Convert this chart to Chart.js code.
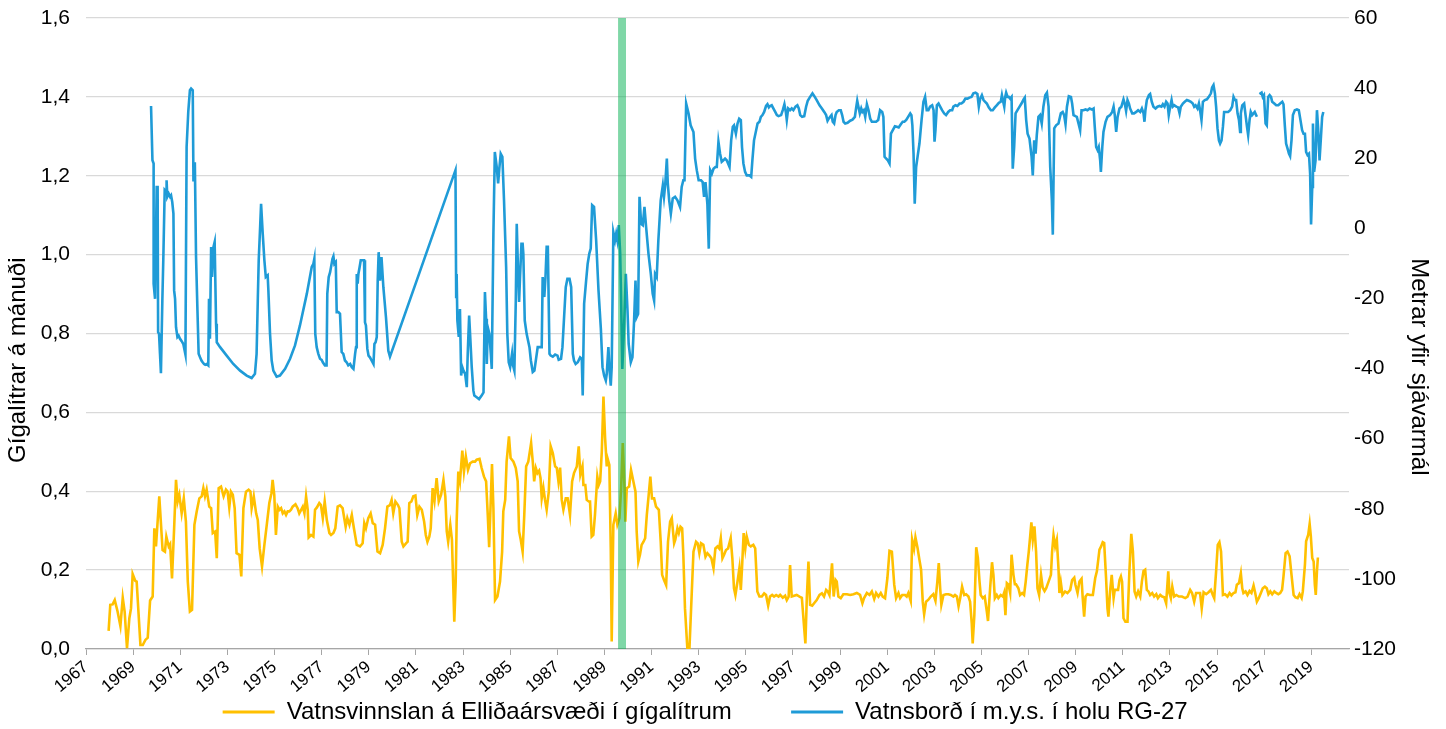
<!DOCTYPE html>
<html>
<head>
<meta charset="utf-8">
<script src="https://cdn.jsdelivr.net/npm/chart.js@4.4.1/dist/chart.umd.min.js"></script>
<style>
  html, body { margin: 0; padding: 0; background: #fff; }
  canvas { display: block; }
</style>
</head>
<body>
<canvas id="chart" width="1446" height="729"></canvas>
<script>
// Vatnsvinnsla (gígalítrar á mánuði) - vinstri ás
const extractionYears = [
  1967.96, 1968.03, 1968.13, 1968.22, 1968.34, 1968.46, 1968.56, 1968.64, 1968.74, 1968.84,
  1968.91, 1968.98, 1969.09, 1969.15, 1969.31, 1969.41, 1969.52, 1969.62, 1969.72, 1969.83,
  1969.90, 1969.97, 1970.11, 1970.25, 1970.35, 1970.41, 1970.51, 1970.57, 1970.65, 1970.74,
  1970.82, 1970.89, 1970.96, 1971.06, 1971.15, 1971.24, 1971.32, 1971.41, 1971.50, 1971.60,
  1971.70, 1971.81, 1971.91, 1971.98, 1972.05, 1972.12, 1972.23, 1972.31, 1972.38, 1972.48,
  1972.55, 1972.63, 1972.73, 1972.84, 1972.94, 1973.01, 1973.08, 1973.15, 1973.23, 1973.31,
  1973.39, 1973.51, 1973.59, 1973.68, 1973.79, 1973.90, 1973.98, 1974.03, 1974.12, 1974.22,
  1974.29, 1974.37, 1974.47, 1974.57, 1974.68, 1974.78, 1974.87, 1974.92, 1974.99, 1975.06,
  1975.14, 1975.21, 1975.28, 1975.35, 1975.42, 1975.49, 1975.56, 1975.63, 1975.70, 1975.77,
  1975.89, 1975.98, 1976.05, 1976.13, 1976.20, 1976.27, 1976.34, 1976.41, 1976.45, 1976.55,
  1976.65, 1976.72, 1976.80, 1976.90, 1976.97, 1977.05, 1977.13, 1977.22, 1977.33, 1977.40,
  1977.50, 1977.58, 1977.68, 1977.78, 1977.89, 1978.02, 1978.09, 1978.18, 1978.28, 1978.37,
  1978.49, 1978.63, 1978.74, 1978.81, 1978.88, 1978.98, 1979.08, 1979.17, 1979.27, 1979.37,
  1979.48, 1979.59, 1979.69, 1979.79, 1979.90, 1979.97, 1980.04, 1980.13, 1980.24, 1980.30,
  1980.40, 1980.47, 1980.58, 1980.65, 1980.72, 1980.81, 1980.89, 1980.98, 1981.06, 1981.15,
  1981.25, 1981.35, 1981.42, 1981.49, 1981.57, 1981.63, 1981.71, 1981.79, 1981.88, 1981.97,
  1982.07, 1982.17, 1982.25, 1982.31, 1982.37, 1982.46, 1982.53, 1982.63, 1982.69, 1982.73,
  1982.80, 1982.87, 1982.97, 1983.04, 1983.12, 1983.21, 1983.30, 1983.41, 1983.51, 1983.58,
  1983.70, 1983.79, 1983.89, 1983.98, 1984.05, 1984.11, 1984.18, 1984.23, 1984.29, 1984.36,
  1984.46, 1984.57, 1984.66, 1984.71, 1984.79, 1984.85, 1984.95, 1985.02, 1985.14, 1985.24,
  1985.32, 1985.38, 1985.45, 1985.53, 1985.60, 1985.68, 1985.77, 1985.89, 1985.96, 1986.02,
  1986.09, 1986.16, 1986.23, 1986.29, 1986.34, 1986.41, 1986.48, 1986.55, 1986.64, 1986.72,
  1986.81, 1986.91, 1986.98, 1987.05, 1987.12, 1987.19, 1987.26, 1987.36, 1987.44, 1987.54,
  1987.63, 1987.71, 1987.83, 1987.91, 1987.98, 1988.07, 1988.11, 1988.19, 1988.25, 1988.34,
  1988.39, 1988.46, 1988.53, 1988.60, 1988.70, 1988.76, 1988.82, 1988.89, 1988.96, 1989.03,
  1989.10, 1989.14, 1989.21, 1989.27, 1989.31, 1989.38, 1989.48, 1989.55, 1989.64, 1989.71,
  1989.78, 1989.85, 1989.89, 1989.95, 1990.05, 1990.13, 1990.23, 1990.32, 1990.37, 1990.44,
  1990.51, 1990.58, 1990.66, 1990.73, 1990.80, 1990.88, 1990.95, 1991.02, 1991.11, 1991.19,
  1991.31, 1991.39, 1991.45, 1991.53, 1991.62, 1991.70, 1991.79, 1991.86, 1991.96, 1992.01,
  1992.10, 1992.16, 1992.23, 1992.30, 1992.35, 1992.42, 1992.52, 1992.61, 1992.68, 1992.78,
  1992.89, 1992.96, 1993.03, 1993.10, 1993.20, 1993.29, 1993.37, 1993.46, 1993.54, 1993.63,
  1993.71, 1993.80, 1993.87, 1993.94, 1994.01, 1994.08, 1994.16, 1994.25, 1994.36, 1994.43,
  1994.50, 1994.56, 1994.65, 1994.73, 1994.79, 1994.84, 1994.91, 1994.98, 1995.04, 1995.13,
  1995.21, 1995.32, 1995.40, 1995.49, 1995.58, 1995.68, 1995.78, 1995.86, 1995.95, 1996.03,
  1996.12, 1996.20, 1996.29, 1996.39, 1996.46, 1996.57, 1996.67, 1996.74, 1996.82, 1996.88,
  1996.95, 1997.05, 1997.16, 1997.28, 1997.38, 1997.48, 1997.53, 1997.59, 1997.66, 1997.73,
  1997.82, 1997.90, 1998.01, 1998.13, 1998.23, 1998.32, 1998.41, 1998.48, 1998.55, 1998.66,
  1998.73, 1998.81, 1998.86, 1998.93, 1999.03, 1999.14, 1999.29, 1999.43, 1999.57, 1999.71,
  1999.85, 1999.95, 2000.02, 2000.14, 2000.25, 2000.35, 2000.45, 2000.53, 2000.63, 2000.73,
  2000.81, 2000.91, 2001.01, 2001.10, 2001.20, 2001.30, 2001.38, 2001.48, 2001.55, 2001.64,
  2001.76, 2001.83, 2001.90, 2002.00, 2002.06, 2002.14, 2002.20, 2002.29, 2002.37, 2002.44,
  2002.51, 2002.57, 2002.65, 2002.75, 2002.85, 2002.96, 2003.05, 2003.13, 2003.19, 2003.25,
  2003.30, 2003.39, 2003.50, 2003.60, 2003.70, 2003.81, 2003.88, 2003.96, 2004.03, 2004.10,
  2004.18, 2004.27, 2004.35, 2004.45, 2004.52, 2004.59, 2004.63, 2004.70, 2004.78, 2004.85,
  2004.92, 2004.97, 2005.06, 2005.14, 2005.23, 2005.28, 2005.37, 2005.45, 2005.51, 2005.57,
  2005.65, 2005.72, 2005.82, 2005.91, 2005.96, 2006.02, 2006.08, 2006.15, 2006.22, 2006.28,
  2006.36, 2006.42, 2006.47, 2006.57, 2006.64, 2006.73, 2006.81, 2006.88, 2006.95, 2007.01,
  2007.07, 2007.12, 2007.18, 2007.25, 2007.32, 2007.38, 2007.45, 2007.53, 2007.60, 2007.68,
  2007.75, 2007.85, 2007.95, 2008.00, 2008.06, 2008.13, 2008.20, 2008.27, 2008.31, 2008.37,
  2008.44, 2008.55, 2008.65, 2008.77, 2008.85, 2008.94, 2008.99, 2009.08, 2009.16, 2009.25,
  2009.30, 2009.36, 2009.42, 2009.50, 2009.61, 2009.73, 2009.83, 2009.90, 2010.01, 2010.08,
  2010.15, 2010.21, 2010.29, 2010.35, 2010.39, 2010.46, 2010.53, 2010.61, 2010.66, 2010.72,
  2010.80, 2010.86, 2010.92, 2010.97, 2011.03, 2011.11, 2011.20, 2011.28, 2011.36, 2011.43,
  2011.50, 2011.57, 2011.65, 2011.74, 2011.81, 2011.88, 2011.95, 2012.02, 2012.09, 2012.16,
  2012.25, 2012.33, 2012.42, 2012.49, 2012.59, 2012.67, 2012.76, 2012.84, 2012.93, 2012.98,
  2013.04, 2013.10, 2013.18, 2013.27, 2013.38, 2013.51, 2013.65, 2013.75, 2013.86, 2013.94,
  2014.03, 2014.11, 2014.21, 2014.28, 2014.35, 2014.43, 2014.54, 2014.64, 2014.74, 2014.82,
  2014.88, 2014.96, 2015.03, 2015.10, 2015.17, 2015.25, 2015.34, 2015.44, 2015.53, 2015.61,
  2015.70, 2015.78, 2015.84, 2015.93, 2016.01, 2016.07, 2016.12, 2016.21, 2016.29, 2016.38,
  2016.46, 2016.55, 2016.62, 2016.69, 2016.77, 2016.86, 2016.94, 2017.03, 2017.11, 2017.18,
  2017.26, 2017.34, 2017.43, 2017.51, 2017.60, 2017.68, 2017.76, 2017.82, 2017.91, 2017.99,
  2018.08, 2018.16, 2018.25, 2018.33, 2018.42, 2018.50, 2018.59, 2018.64, 2018.73, 2018.78,
  2018.87, 2018.93, 2018.98, 2019.04, 2019.10, 2019.15, 2019.19, 2019.24, 2019.28
];
const extractionValues = [
  0.046, 0.112, 0.113, 0.124, 0.095, 0.058, 0.130, 0.095, 0.002, 0.078,
  0.103, 0.190, 0.173, 0.171, 0.010, 0.010, 0.023, 0.029, 0.123, 0.133,
  0.306, 0.260, 0.387, 0.251, 0.247, 0.285, 0.260, 0.266, 0.179, 0.306,
  0.429, 0.374, 0.391, 0.344, 0.382, 0.323, 0.171, 0.095, 0.099, 0.315,
  0.349, 0.382, 0.387, 0.408, 0.387, 0.404, 0.361, 0.357, 0.294, 0.298,
  0.230, 0.408, 0.412, 0.387, 0.404, 0.399, 0.359, 0.399, 0.391, 0.357,
  0.243, 0.239, 0.184, 0.357, 0.399, 0.404, 0.399, 0.357, 0.387, 0.344,
  0.327, 0.255, 0.209, 0.264, 0.319, 0.370, 0.395, 0.429, 0.391, 0.289,
  0.361, 0.353, 0.357, 0.344, 0.349, 0.340, 0.349, 0.349, 0.353, 0.361,
  0.367, 0.357, 0.344, 0.353, 0.361, 0.344, 0.387, 0.353, 0.283, 0.289,
  0.285, 0.353, 0.359, 0.370, 0.365, 0.332, 0.374, 0.327, 0.294, 0.289,
  0.294, 0.306, 0.361, 0.364, 0.357, 0.310, 0.332, 0.315, 0.340, 0.306,
  0.264, 0.260, 0.268, 0.319, 0.306, 0.332, 0.344, 0.319, 0.315, 0.247,
  0.243, 0.264, 0.306, 0.361, 0.365, 0.378, 0.344, 0.374, 0.365, 0.357,
  0.272, 0.260, 0.268, 0.272, 0.370, 0.374, 0.387, 0.389, 0.340, 0.361,
  0.353, 0.323, 0.289, 0.272, 0.285, 0.306, 0.408, 0.376, 0.433, 0.374,
  0.391, 0.429, 0.387, 0.298, 0.272, 0.315, 0.277, 0.069, 0.171, 0.323,
  0.450, 0.425, 0.503, 0.450, 0.488, 0.454, 0.471, 0.475, 0.475, 0.480,
  0.482, 0.459, 0.437, 0.425, 0.340, 0.258, 0.382, 0.469, 0.357, 0.124,
  0.133, 0.171, 0.247, 0.349, 0.378, 0.475, 0.539, 0.484, 0.475, 0.459,
  0.425, 0.298, 0.277, 0.247, 0.340, 0.463, 0.475, 0.522, 0.475, 0.425,
  0.459, 0.446, 0.452, 0.433, 0.382, 0.409, 0.378, 0.353, 0.399, 0.514,
  0.497, 0.463, 0.459, 0.425, 0.460, 0.378, 0.353, 0.382, 0.382, 0.340,
  0.425, 0.446, 0.463, 0.514, 0.442, 0.463, 0.416, 0.416, 0.378, 0.374,
  0.374, 0.285, 0.289, 0.340, 0.437, 0.416, 0.425, 0.501, 0.640, 0.535,
  0.463, 0.482, 0.467, 0.255, 0.019, 0.315, 0.344, 0.315, 0.332, 0.408,
  0.522, 0.416, 0.323, 0.408, 0.412, 0.454, 0.425, 0.399, 0.298, 0.222,
  0.239, 0.264, 0.272, 0.281, 0.340, 0.391, 0.437, 0.382, 0.382, 0.361,
  0.353, 0.272, 0.188, 0.175, 0.162, 0.272, 0.323, 0.332, 0.268, 0.277,
  0.306, 0.294, 0.310, 0.306, 0.239, 0.103, 0.002, 0.002, 0.103, 0.247,
  0.272, 0.268, 0.243, 0.268, 0.264, 0.234, 0.243, 0.237, 0.230, 0.205,
  0.255, 0.260, 0.255, 0.281, 0.230, 0.239, 0.251, 0.255, 0.281, 0.230,
  0.154, 0.137, 0.171, 0.205, 0.150, 0.205, 0.294, 0.255, 0.285, 0.264,
  0.260, 0.264, 0.255, 0.146, 0.133, 0.133, 0.141, 0.137, 0.110, 0.133,
  0.137, 0.133, 0.137, 0.133, 0.137, 0.130, 0.135, 0.124, 0.133, 0.213,
  0.133, 0.135, 0.137, 0.133, 0.130, 0.052, 0.014, 0.129, 0.222, 0.112,
  0.110, 0.116, 0.124, 0.137, 0.141, 0.133, 0.150, 0.146, 0.137, 0.217,
  0.133, 0.175, 0.171, 0.133, 0.129, 0.139, 0.139, 0.137, 0.139, 0.142,
  0.137, 0.116, 0.129, 0.142, 0.137, 0.146, 0.127, 0.142, 0.133, 0.142,
  0.133, 0.129, 0.180, 0.249, 0.247, 0.163, 0.129, 0.142, 0.129, 0.137,
  0.137, 0.133, 0.142, 0.122, 0.277, 0.254, 0.283, 0.256, 0.226, 0.201,
  0.120, 0.088, 0.120, 0.125, 0.133, 0.139, 0.122, 0.171, 0.218, 0.154,
  0.112, 0.137, 0.139, 0.139, 0.137, 0.133, 0.137, 0.133, 0.108, 0.129,
  0.158, 0.137, 0.139, 0.133, 0.120, 0.065, 0.014, 0.086, 0.258, 0.231,
  0.171, 0.137, 0.129, 0.133, 0.095, 0.071, 0.154, 0.220, 0.188, 0.129,
  0.137, 0.129, 0.137, 0.133, 0.142, 0.086, 0.167, 0.163, 0.142, 0.239,
  0.188, 0.164, 0.164, 0.154, 0.137, 0.142, 0.137, 0.171, 0.214, 0.247,
  0.286, 0.321, 0.277, 0.311, 0.247, 0.154, 0.137, 0.188, 0.156, 0.147,
  0.154, 0.171, 0.188, 0.247, 0.288, 0.260, 0.277, 0.205, 0.142, 0.169,
  0.137, 0.146, 0.142, 0.150, 0.175, 0.181, 0.163, 0.142, 0.171, 0.178,
  0.129, 0.082, 0.133, 0.139, 0.137, 0.137, 0.180, 0.197, 0.252, 0.260,
  0.271, 0.269, 0.180, 0.103, 0.082, 0.146, 0.188, 0.129, 0.150, 0.150,
  0.150, 0.175, 0.184, 0.171, 0.078, 0.069, 0.069, 0.197, 0.292, 0.247,
  0.146, 0.133, 0.146, 0.133, 0.171, 0.198, 0.201, 0.150, 0.146, 0.137,
  0.142, 0.133, 0.139, 0.129, 0.137, 0.133, 0.131, 0.116, 0.197, 0.142,
  0.129, 0.158, 0.133, 0.137, 0.133, 0.133, 0.129, 0.133, 0.150, 0.142,
  0.120, 0.142, 0.142, 0.142, 0.103, 0.144, 0.139, 0.144, 0.150, 0.137,
  0.129, 0.197, 0.264, 0.271, 0.247, 0.137, 0.139, 0.133, 0.142, 0.136,
  0.142, 0.144, 0.163, 0.167, 0.192, 0.154, 0.142, 0.146, 0.137, 0.147,
  0.142, 0.161, 0.142, 0.120, 0.129, 0.142, 0.154, 0.158, 0.154, 0.139,
  0.146, 0.139, 0.146, 0.142, 0.139, 0.142, 0.150, 0.184, 0.243, 0.247,
  0.235, 0.188, 0.137, 0.131, 0.129, 0.139, 0.129, 0.146, 0.214, 0.273,
  0.290, 0.317, 0.286, 0.231, 0.222, 0.163, 0.137, 0.197, 0.232
];

// Vatnsborð í holu RG-27 (m.y.s.) - hægri ás
const levelYears = [
  1969.76, 1969.82, 1969.87, 1969.87, 1969.93, 1969.97, 1970.00, 1970.04, 1970.06, 1970.10,
  1970.14, 1970.18, 1970.24, 1970.28, 1970.34, 1970.40, 1970.42, 1970.45, 1970.51, 1970.57,
  1970.61, 1970.66, 1970.71, 1970.74, 1970.78, 1970.82, 1970.88, 1970.93, 1970.99, 1971.06,
  1971.13, 1971.22, 1971.27, 1971.34, 1971.41, 1971.46, 1971.53, 1971.56, 1971.58, 1971.62,
  1971.67, 1971.73, 1971.78, 1971.84, 1971.90, 1971.95, 1972.01, 1972.06, 1972.12, 1972.19,
  1972.22, 1972.26, 1972.31, 1972.35, 1972.41, 1972.46, 1972.52, 1972.55, 1972.69, 1972.97,
  1973.25, 1973.54, 1973.82, 1974.03, 1974.17, 1974.24, 1974.29, 1974.33, 1974.39, 1974.43,
  1974.50, 1974.57, 1974.63, 1974.71, 1974.74, 1974.81, 1974.88, 1974.95, 1975.09, 1975.23,
  1975.45, 1975.66, 1975.87, 1976.08, 1976.37, 1976.58, 1976.65, 1976.69, 1976.73, 1976.79,
  1976.86, 1976.93, 1977.00, 1977.05, 1977.14, 1977.21, 1977.24, 1977.30, 1977.36, 1977.40,
  1977.46, 1977.50, 1977.54, 1977.60, 1977.64, 1977.71, 1977.78, 1977.85, 1977.92, 1977.99,
  1978.06, 1978.13, 1978.21, 1978.28, 1978.35, 1978.42, 1978.46, 1978.49, 1978.53, 1978.56,
  1978.60, 1978.66, 1978.73, 1978.80, 1978.84, 1978.88, 1978.94, 1978.99, 1979.05, 1979.12,
  1979.20, 1979.24, 1979.29, 1979.34, 1979.38, 1979.42, 1979.48, 1979.54, 1979.62, 1979.73,
  1979.83, 1979.90, 1982.68, 1982.71, 1982.73, 1982.76, 1982.82, 1982.87, 1982.92, 1982.97,
  1983.02, 1983.09, 1983.16, 1983.20, 1983.26, 1983.30, 1983.37, 1983.44, 1983.48, 1983.58,
  1983.68, 1983.79, 1983.87, 1983.93, 1983.98, 1984.01, 1984.05, 1984.12, 1984.18, 1984.22,
  1984.29, 1984.35, 1984.43, 1984.49, 1984.54, 1984.60, 1984.67, 1984.74, 1984.83, 1984.88,
  1984.94, 1985.00, 1985.04, 1985.08, 1985.11, 1985.18, 1985.24, 1985.28, 1985.33, 1985.38,
  1985.42, 1985.48, 1985.53, 1985.56, 1985.62, 1985.70, 1985.82, 1985.88, 1985.96, 1986.03,
  1986.10, 1986.17, 1986.24, 1986.34, 1986.38, 1986.45, 1986.50, 1986.55, 1986.60, 1986.67,
  1986.72, 1986.81, 1986.91, 1987.01, 1987.06, 1987.16, 1987.22, 1987.29, 1987.36, 1987.43,
  1987.52, 1987.59, 1987.66, 1987.71, 1987.78, 1987.87, 1987.97, 1988.04, 1988.08, 1988.14,
  1988.22, 1988.29, 1988.36, 1988.42, 1988.48, 1988.56, 1988.65, 1988.75, 1988.85, 1988.92,
  1988.99, 1989.06, 1989.10, 1989.17, 1989.21, 1989.27, 1989.31, 1989.38, 1989.45, 1989.50,
  1989.55, 1989.61, 1989.67, 1989.71, 1989.76, 1989.84, 1989.91, 1989.98, 1990.03, 1990.12,
  1990.19, 1990.26, 1990.32, 1990.37, 1990.43, 1990.49, 1990.56, 1990.63, 1990.70, 1990.77,
  1990.87, 1990.97, 1991.05, 1991.11, 1991.15, 1991.22, 1991.29, 1991.39, 1991.48, 1991.53,
  1991.58, 1991.65, 1991.69, 1991.75, 1991.82, 1991.90, 1992.00, 1992.10, 1992.21, 1992.28,
  1992.35, 1992.40, 1992.47, 1992.57, 1992.66, 1992.78, 1992.85, 1992.92, 1993.00, 1993.10,
  1993.17, 1993.23, 1993.29, 1993.37, 1993.43, 1993.49, 1993.56, 1993.63, 1993.71, 1993.77,
  1993.84, 1993.91, 1993.98, 1994.05, 1994.12, 1994.19, 1994.31, 1994.38, 1994.45, 1994.50,
  1994.58, 1994.65, 1994.72, 1994.79, 1994.84, 1994.90, 1994.97, 1995.04, 1995.16, 1995.23,
  1995.28, 1995.35, 1995.44, 1995.50, 1995.58, 1995.64, 1995.71, 1995.78, 1995.86, 1995.92,
  1995.98, 1996.03, 1996.10, 1996.17, 1996.25, 1996.32, 1996.39, 1996.50, 1996.57, 1996.64,
  1996.70, 1996.74, 1996.80, 1996.88, 1996.95, 1997.02, 1997.11, 1997.19, 1997.25, 1997.31,
  1997.39, 1997.48, 1997.56, 1997.63, 1997.73, 1997.83, 1997.91, 1998.01, 1998.13, 1998.23,
  1998.33, 1998.41, 1998.47, 1998.52, 1998.58, 1998.64, 1998.69, 1998.75, 1998.81, 1998.86,
  1998.95, 1999.03, 1999.09, 1999.15, 1999.22, 1999.32, 1999.43, 1999.53, 1999.63, 1999.68,
  1999.73, 1999.78, 1999.84, 1999.90, 1999.95, 2000.01, 2000.07, 2000.14, 2000.21, 2000.28,
  2000.35, 2000.45, 2000.53, 2000.62, 2000.70, 2000.79, 2000.84, 2000.89, 2000.96, 2001.03,
  2001.10, 2001.16, 2001.24, 2001.33, 2001.41, 2001.49, 2001.58, 2001.66, 2001.73, 2001.81,
  2001.89, 2001.98, 2002.03, 2002.07, 2002.12, 2002.17, 2002.23, 2002.29, 2002.37, 2002.46,
  2002.54, 2002.61, 2002.68, 2002.75, 2002.82, 2002.91, 2002.97, 2003.01, 2003.05, 2003.11,
  2003.18, 2003.25, 2003.33, 2003.42, 2003.50, 2003.59, 2003.67, 2003.76, 2003.81, 2003.90,
  2003.98, 2004.07, 2004.15, 2004.24, 2004.32, 2004.41, 2004.49, 2004.58, 2004.66, 2004.75,
  2004.83, 2004.89, 2004.95, 2005.02, 2005.09, 2005.16, 2005.23, 2005.31, 2005.40, 2005.48,
  2005.57, 2005.65, 2005.74, 2005.82, 2005.87, 2005.91, 2005.97, 2006.01, 2006.05, 2006.11,
  2006.16, 2006.22, 2006.28, 2006.33, 2006.39, 2006.45, 2006.53, 2006.62, 2006.70, 2006.79,
  2006.84, 2006.90, 2006.96, 2007.04, 2007.13, 2007.18, 2007.24, 2007.30, 2007.35, 2007.42,
  2007.49, 2007.56, 2007.63, 2007.71, 2007.78, 2007.85, 2007.92, 2007.99, 2008.03, 2008.09,
  2008.17, 2008.27, 2008.37, 2008.45, 2008.51, 2008.57, 2008.63, 2008.71, 2008.80, 2008.85,
  2008.91, 2008.99, 2009.05, 2009.12, 2009.19, 2009.25, 2009.33, 2009.42, 2009.50, 2009.59,
  2009.69, 2009.76, 2009.81, 2009.87, 2009.93, 2009.98, 2010.04, 2010.07, 2010.13, 2010.18,
  2010.27, 2010.35, 2010.46, 2010.55, 2010.61, 2010.66, 2010.72, 2010.78, 2010.86, 2010.94,
  2011.03, 2011.09, 2011.14, 2011.20, 2011.26, 2011.31, 2011.40, 2011.48, 2011.57, 2011.65,
  2011.74, 2011.81, 2011.88, 2011.92, 2011.96, 2012.02, 2012.11, 2012.16, 2012.23, 2012.30,
  2012.39, 2012.47, 2012.56, 2012.64, 2012.70, 2012.77, 2012.84, 2012.90, 2012.95, 2013.01,
  2013.07, 2013.12, 2013.18, 2013.27, 2013.35, 2013.41, 2013.46, 2013.55, 2013.63, 2013.72,
  2013.80, 2013.89, 2013.97, 2014.03, 2014.09, 2014.17, 2014.23, 2014.28, 2014.34, 2014.40,
  2014.48, 2014.57, 2014.65, 2014.74, 2014.79, 2014.85, 2014.91, 2014.96, 2015.02, 2015.08,
  2015.13, 2015.19, 2015.25, 2015.30, 2015.39, 2015.47, 2015.56, 2015.64, 2015.70, 2015.76,
  2015.81, 2015.87, 2015.93, 2015.98, 2016.01, 2016.07, 2016.15, 2016.21, 2016.27, 2016.32,
  2016.38, 2016.43, 2016.49, 2016.55, 2016.60, 2016.69, 2016.74, 2016.80, 2016.89, 2016.94,
  2016.99, 2017.06, 2017.11, 2017.17, 2017.23, 2017.29, 2017.34, 2017.43, 2017.51, 2017.60,
  2017.68, 2017.77, 2017.82, 2017.88, 2017.93, 2017.99, 2018.05, 2018.10, 2018.16, 2018.22,
  2018.30, 2018.39, 2018.47, 2018.53, 2018.61, 2018.67, 2018.73, 2018.78, 2018.84, 2018.90,
  2018.95, 2018.99, 2019.04, 2019.07, 2019.12, 2019.18, 2019.24, 2019.29, 2019.35, 2019.41,
  2019.46, 2019.51
];
const levelValues = [
  34.9, 19.4, 18.5, -15.8, -20.1, -20.1, 11.8, 11.8, -29.6, -30.1,
  -35.8, -41.3, -20.6, -9.1, 10.9, 10.4, 13.7, 9.0, 9.9, 9.0,
  9.4, 7.5, 4.2, -17.7, -20.1, -28.2, -31.0, -30.6, -31.5, -32.2,
  -33.0, -36.0, 23.2, 33.2, 39.4, 39.9, 39.4, 13.7, 18.5, 18.5,
  -8.2, -23.4, -35.8, -36.8, -37.7, -38.2, -38.7, -38.9, -38.7, -39.1,
  -20.1, -31.5, -5.3, -13.9, -5.3, -3.9, -27.2, -32.5, -33.9, -36.3,
  -38.7, -40.6, -42.0, -42.7, -41.5, -35.8, -20.6, -9.1, 0.4, 7.0,
  -1.5, -9.1, -13.9, -13.4, -17.7, -30.1, -37.7, -40.6, -42.3, -42.0,
  -40.1, -37.2, -33.4, -27.7, -18.7, -11.0, -10.1, -8.7, -30.1, -33.9,
  -35.8, -37.2, -37.5, -38.2, -39.1, -39.1, -18.7, -13.9, -12.5, -11.0,
  -8.7, -8.0, -10.1, -9.6, -23.9, -23.9, -24.4, -35.3, -35.8, -37.7,
  -38.2, -39.1, -38.7, -39.6, -40.1, -35.8, -33.9, -13.0, -15.8, -13.0,
  -11.5, -9.1, -9.1, -9.1, -26.8, -27.7, -34.4, -36.3, -36.8, -37.7,
  -38.7, -33.0, -32.5, -31.0, -14.9, -6.8, -14.9, -8.2, -16.8, -25.3,
  -34.9, -36.6, 16.6, -19.6, -13.0, -26.3, -31.0, -23.0, -42.0, -39.6,
  -40.6, -41.5, -45.3, -35.8, -24.9, -30.1, -39.6, -46.3, -47.7, -48.2,
  -48.7, -47.7, -46.8, -18.2, -25.8, -38.7, -28.2, -30.1, -35.8, -40.1,
  -1.5, 21.8, 17.5, 12.8, 17.0, 21.3, 20.4, 8.0, -11.0, -30.1,
  -38.2, -39.6, -37.7, -35.8, -38.7, -40.6, -20.6, 1.3, -11.0, -21.0,
  -13.9, -4.4, -4.4, -7.2, -26.3, -30.1, -33.9, -37.7, -41.0, -40.6,
  -37.2, -33.9, -33.9, -33.9, -13.9, -19.6, -13.9, -5.3, -5.3, -35.8,
  -36.3, -36.6, -36.0, -36.3, -37.5, -37.2, -33.9, -25.3, -16.8, -14.4,
  -14.4, -16.8, -35.8, -37.7, -38.7, -38.2, -36.8, -37.2, -47.7, -21.5,
  -15.3, -10.1, -7.2, -5.8, 6.6, 6.1, -3.4, -17.7, -28.7, -39.6,
  -42.0, -43.4, -41.5, -33.9, -39.6, -44.9, -39.6, -1.1, -3.4, -1.5,
  -3.4, 0.9, -7.2, -20.6, -40.1, -27.2, -13.0, -23.4, -33.0, -38.2,
  -36.8, -26.3, -14.9, -25.3, -24.4, 9.0, 1.3, 0.9, 6.1, 0.4,
  -7.2, -13.0, -18.7, -20.6, -13.0, -13.9, -3.4, 8.0, 12.3, 9.0,
  12.3, 19.9, 12.8, 8.0, 4.2, 8.5, 9.0, 8.0, 6.1, 11.8,
  13.7, 13.7, 35.6, 32.8, 29.4, 27.5, 19.9, 16.6, 13.7, 13.7,
  13.2, 9.0, 13.2, 7.0, -5.8, 16.6, 15.6, 17.0, 17.5, 17.5,
  24.7, 21.3, 19.0, 19.4, 19.9, 19.4, 17.5, 25.1, 29.0, 29.4,
  27.0, 29.9, 31.3, 30.9, 23.2, 18.5, 16.1, 15.1, 15.1, 14.7,
  19.4, 25.1, 28.0, 29.9, 30.4, 31.8, 32.3, 33.2, 34.9, 35.4,
  34.5, 34.9, 35.1, 34.2, 33.2, 32.3, 32.0, 32.3, 33.7, 35.4,
  33.2, 30.9, 34.2, 33.7, 34.2, 33.7, 34.7, 35.1, 34.2, 32.3,
  31.8, 32.0, 34.7, 36.4, 37.5, 38.5, 37.7, 36.6, 35.1, 34.2,
  33.2, 32.3, 30.7, 31.3, 31.8, 32.3, 30.4, 29.9, 32.3, 33.2,
  33.7, 33.7, 32.3, 30.4, 29.9, 30.1, 30.7, 31.0, 31.8, 34.2,
  36.4, 34.7, 32.8, 34.2, 33.2, 33.7, 31.8, 35.4, 33.7, 31.3,
  30.4, 30.4, 30.4, 30.9, 33.7, 33.2, 31.8, 20.4, 19.9, 19.4,
  18.5, 27.0, 28.0, 29.1, 29.0, 28.8, 29.7, 30.4, 30.4, 30.9,
  31.8, 32.8, 32.3, 29.4, 21.3, 7.0, 17.5, 20.4, 24.2, 30.9,
  36.1, 37.5, 33.7, 33.7, 34.7, 35.1, 33.7, 24.7, 28.0, 35.1,
  35.6, 34.7, 33.7, 32.8, 32.3, 33.2, 33.7, 33.7, 34.7, 35.1,
  34.9, 35.6, 35.6, 36.1, 37.0, 37.0, 37.3, 37.5, 38.5, 38.7,
  38.3, 34.7, 37.0, 38.0, 36.6, 36.1, 35.6, 34.5, 33.7, 33.7,
  34.5, 35.1, 35.8, 36.1, 38.0, 36.6, 34.7, 37.5, 38.7, 37.5,
  37.5, 37.0, 37.5, 17.0, 23.2, 32.8, 33.7, 34.7, 35.6, 36.8,
  37.3, 30.9, 27.0, 25.6, 20.4, 15.1, 25.1, 21.3, 26.6, 31.8,
  32.3, 29.9, 34.7, 38.0, 38.7, 34.7, 17.5, 8.0, -1.8, 28.5,
  29.4, 29.9, 32.8, 33.2, 32.3, 29.7, 34.7, 37.7, 37.5, 35.6,
  32.3, 32.0, 31.8, 29.9, 28.0, 33.7, 33.7, 33.9, 33.7, 34.2,
  33.9, 34.2, 29.0, 23.2, 22.3, 23.2, 19.4, 16.1, 23.2, 27.5,
  30.4, 31.8, 32.3, 33.2, 34.7, 32.3, 27.5, 31.8, 34.2, 34.7,
  36.8, 35.4, 33.5, 36.6, 35.6, 34.2, 32.8, 32.8, 33.2, 33.7,
  33.2, 34.2, 32.8, 30.4, 33.7, 36.6, 38.0, 38.3, 36.1, 34.7,
  34.2, 34.7, 34.9, 34.7, 35.4, 34.7, 36.1, 35.6, 32.3, 34.7,
  36.6, 34.7, 35.1, 34.7, 34.5, 32.8, 34.7, 35.6, 36.1, 36.6,
  36.4, 36.1, 35.6, 34.7, 35.1, 34.2, 35.6, 33.7, 30.9, 36.1,
  36.6, 36.8, 37.5, 38.5, 40.2, 40.9, 38.5, 34.7, 28.5, 25.1,
  24.2, 25.1, 29.0, 33.2, 33.2, 33.2, 33.7, 34.7, 37.5, 36.6,
  36.6, 32.8, 30.9, 27.5, 32.8, 35.1, 35.6, 32.3, 29.0, 26.6,
  30.9, 33.2, 32.3, 32.8, 33.2, 31.8, null, 38.3, 38.7, 37.5,
  38.0, 29.9, 29.4, 37.5, 38.0, 37.5, 36.1, 35.6, 35.1, 35.1,
  35.6, 36.1, 35.4, 29.0, 24.2, 22.8, 21.3, 20.6, 25.1, 32.3,
  33.7, 33.9, 33.7, 31.3, 28.0, 27.0, 27.0, 21.8, 20.9, 21.3,
  15.6, 1.1, 11.8, 29.9, 16.1, 19.4, 33.7, 28.5, 19.4, 26.1,
  31.8, 33.2
];

// ás-merkingar og græna tímabilið
const tickYears = [1967, 1969, 1971, 1973, 1975, 1977, 1979, 1981, 1983, 1985, 1987, 1989, 1991,
                   1993, 1995, 1997, 1999, 2001, 2003, 2005, 2007, 2009, 2011, 2013, 2015, 2017, 2019];
const bandYears = [1989.58, 1989.92];
const bandValues = [1.6, 1.6];

const seriesLabels = ['Vatnsvinnslan á Elliðaársvæði í gígalítrum', 'Vatnsborð í m.y.s. í holu RG-27'];
const axisTitles = ['Gígalítrar á mánuði', 'Metrar yfir sjávarmál'];

function toPoints(xs, ys) {
  return xs.map((x, i) => ({ x: x, y: ys[i] }));
}

const FONT = "'Liberation Sans', Arial, sans-serif";
const YELLOW = '#FFC000';
const BLUE = '#1F9BD7';
const NB = n => '\u00a0'.repeat(n);   // bil til að hnika textanum aðeins til

// y-ásarnir eiga ekki að ýta teiknisvæðinu niður
function fixYAxis(width) {
  return scale => {
    scale.width = width;
    scale.paddingTop = 0;
    scale.paddingBottom = 0;
  };
}

const chart = new Chart(document.getElementById('chart'), {
  type: 'line',
  data: {
    datasets: [
      {
        label: 'band',
        data: toPoints(bandYears, bandValues),
        yAxisID: 'y',
        borderWidth: 0,
        pointRadius: 0,
        fill: 'origin',
        backgroundColor: 'rgba(0, 176, 80, 0.5)'
      },
      {
        label: seriesLabels[0],
        data: toPoints(extractionYears, extractionValues),
        yAxisID: 'y',
        borderColor: YELLOW,
        backgroundColor: YELLOW,
        borderWidth: 2.6,
        pointRadius: 0,
        fill: false
      },
      {
        label: seriesLabels[1],
        data: toPoints(levelYears, levelValues),
        yAxisID: 'y2',
        borderColor: BLUE,
        backgroundColor: BLUE,
        borderWidth: 2.6,
        pointRadius: 0,
        fill: false
      }
    ]
  },
  options: {
    responsive: false,
    animation: false,
    layout: { padding: { left: 0, right: 9, top: 18, bottom: -5 } },
    plugins: {
      tooltip: { enabled: false },
      legend: {
        position: 'bottom',
        labels: {
          font: { family: FONT, size: 24 },
          color: '#000',
          boxWidth: 52,
          boxHeight: 3,
          padding: 6,
          filter: item => item.datasetIndex !== 0,
          generateLabels: (c) => {
            const items = Chart.defaults.plugins.legend.labels.generateLabels(c);
            items.forEach(it => {
              it.lineWidth = 0;
              if (it.datasetIndex === 1) it.text = it.text + NB(8);
              if (it.datasetIndex === 2) it.text = it.text + NB(4);
            });
            return items;
          }
        }
      }
    },
    scales: {
      x: {
        type: 'linear',
        min: 1967,
        max: 2020.6,
        offset: false,
        afterBuildTicks: axis => { axis.ticks = tickYears.map(v => ({ value: v })); },
        afterFit: scale => { scale.height = 45; },
        ticks: {
          autoSkip: false,
          maxRotation: 40,
          minRotation: 40,
          padding: 2,
          color: '#000',
          font: { family: FONT, size: 17 },
          callback: v => String(v)
        },
        grid: { display: true, drawOnChartArea: false, drawTicks: true, tickLength: 6, color: '#a6a6a6' },
        border: { display: true, color: '#a6a6a6', width: 1.3 }
      },
      y: {
        position: 'left',
        min: 0,
        max: 1.6,
        afterFit: fixYAxis(86),
        ticks: {
          stepSize: 0.2,
          padding: 16,
          color: '#000',
          font: { family: FONT, size: 21 },
          callback: v => v.toFixed(1).replace('.', ',')
        },
        grid: { color: '#d9d9d9', lineWidth: 1.3, drawTicks: false },
        border: { display: false },
        title: {
          display: true,
          text: axisTitles[0] + NB(8),
          color: '#000',
          font: { family: FONT, size: 24 },
          padding: { top: 4, bottom: 4 }
        }
      },
      y2: {
        position: 'right',
        min: -120,
        max: 60,
        afterFit: fixYAxis(88),
        ticks: {
          stepSize: 20,
          padding: 5,
          color: '#000',
          font: { family: FONT, size: 21 }
        },
        grid: { drawOnChartArea: false, drawTicks: false },
        border: { display: false },
        title: {
          display: true,
          text: NB(10) + axisTitles[1],
          color: '#000',
          font: { family: FONT, size: 24 },
          padding: { top: 4, bottom: 4 }
        }
      }
    }
  }
});
</script>
</body>
</html>
